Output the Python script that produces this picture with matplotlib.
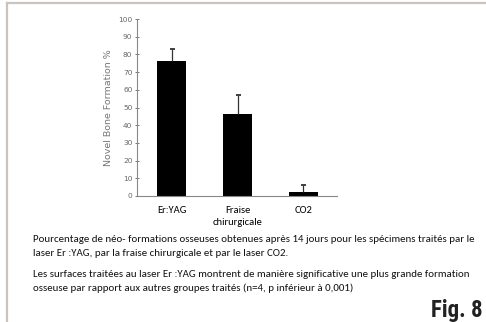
import numpy as np
import matplotlib.pyplot as plt

# Data
groups = ["Er:YAG", "Fraise\nchirurgicale", "CO2"]
bone_formation = [76.5, 46.5, 2.5]
error_up = [6.5, 10.5, 3.5]
y_ticks = [0, 10, 20, 30, 40, 50, 60, 70, 80, 90, 100]

caption_1 = ("Pourcentage de néo- formations osseuses obtenues après 14 jours pour les spécimens traités par le\n"
             "laser Er :YAG, par la fraise chirurgicale et par le laser CO2.")
caption_2 = ("Les surfaces traitées au laser Er :YAG montrent de manière significative une plus grande formation\n"
             "osseuse par rapport aux autres groupes traités (n=4, p inférieur à 0,001)")

body_font = ["Carlito", "Lato", "DejaVu Sans"]
narrow_font = ["Roboto Condensed", "Archivo Narrow", "PT Sans Narrow", "Liberation Sans Narrow",
               "Oswald", "Roboto", "DejaVu Sans"]

W, H = 486, 322
fig = plt.figure(figsize=(W / 100, H / 100), dpi=100)

# frame lines of the figure box
border = "#cbc3bc"
fig.add_artist(plt.Line2D([7 / W, 1], [1 - 3 / H, 1 - 3 / H], color=border, lw=1.6))
fig.add_artist(plt.Line2D([7 / W, 7 / W], [0, 1 - 3 / H], color=border, lw=1.6))

# axes area: x 137..337, y 19..196 (pixels from top)
ax = fig.add_axes([137 / W, 1 - 196 / H, 200 / W, 177 / H])
x = np.arange(len(groups))
ax.bar(x, bone_formation, width=0.44, color="black")
eb = ax.errorbar(x, bone_formation, yerr=[np.zeros(len(x)), error_up], fmt="none",
                 ecolor="#333333", elinewidth=0.9, capsize=1.8, capthick=1.3)
eb[1][0].set_visible(False)  # only the upper cap

ax.set_xlim(-0.53, 2.51)
ax.set_ylim(0, 100)
ax.set_yticks(y_ticks)
ax.set_yticklabels([str(t) for t in y_ticks], fontsize=5.3, color="#666666")
ax.set_xticks(x)
ax.set_xticklabels(groups, fontsize=7.6, family=body_font, linespacing=1.45)
ax.tick_params(axis="y", direction="inout", length=3.5, width=0.7, color="#777777", pad=1.5)
ax.tick_params(axis="x", length=0, pad=7)
ax.set_ylabel("Novel Bone Formation %", fontsize=6.8, color="#777777", labelpad=3.5)

for s in ["top", "right"]:
    ax.spines[s].set_visible(False)
ax.spines["left"].set_color("#888888")
ax.spines["bottom"].set_color("#888888")
ax.spines["left"].set_linewidth(0.8)
ax.spines["bottom"].set_linewidth(0.8)

# caption
fig.text(33 / W, 1 - 235 / H, caption_1, fontsize=7.8, family=body_font,
         va="top", ha="left", linespacing=1.65, color="#111111")
fig.text(33 / W, 1 - 270 / H, caption_2, fontsize=7.8, family=body_font,
         va="top", ha="left", linespacing=1.65, color="#111111")

fig.text(483 / W, 1 - 317 / H, "Fig. 8", fontsize=16.5, fontweight="bold",
         family=narrow_font, ha="right", va="baseline", color="#222222")

fig.savefig("out.png", dpi=100)
